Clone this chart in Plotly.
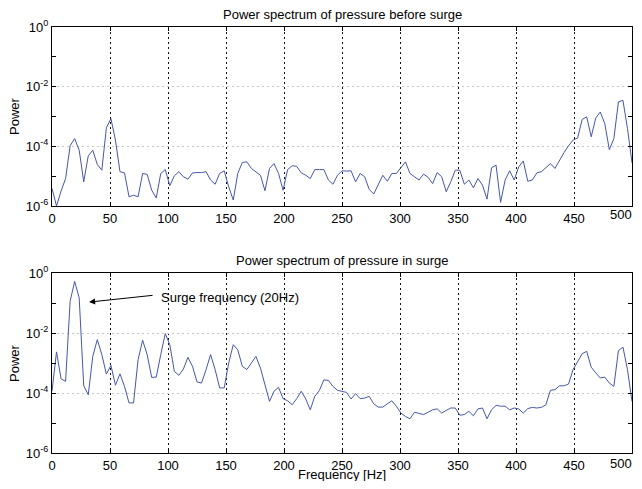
import numpy as np
import plotly.graph_objects as go

# Frequency bins (FFT grid, 129 bins from 0 to 500 Hz)
freq_hz = np.linspace(0, 500, 129)

# log10 of power
log10_power_before = [
    -5.41, -6.00, -5.50, -5.08, -3.98, -3.74, -4.13, -5.19, -4.32, -4.13,
    -4.61, -4.80, -3.38, -3.07, -3.79, -4.85, -4.89, -5.69, -5.64, -5.69,
    -4.91, -4.94, -5.47, -5.73, -4.91, -4.78, -5.32, -4.99, -4.85, -5.02,
    -5.10, -4.89, -4.88, -4.88, -4.85, -5.13, -5.27, -4.91, -4.82, -5.36,
    -5.80, -4.91, -4.54, -4.52, -4.74, -4.85, -4.97, -5.49, -4.74, -4.58,
    -4.91, -5.47, -4.78, -4.65, -4.67, -4.89, -4.97, -5.08, -4.78, -4.78,
    -4.78, -5.13, -5.27, -4.97, -4.82, -4.83, -4.82, -5.19, -4.91, -5.02,
    -5.44, -5.60, -5.30, -4.97, -5.17, -4.91, -4.91, -4.72, -4.52, -4.91,
    -5.02, -5.13, -4.93, -5.04, -5.25, -4.88, -5.02, -5.52, -5.19, -4.80,
    -4.80, -5.27, -5.13, -5.39, -5.08, -5.30, -5.77, -4.72, -4.63, -5.88,
    -5.13, -4.82, -5.13, -4.69, -4.49, -5.17, -5.13, -4.89, -4.85, -4.72,
    -4.58, -4.74, -4.46, -4.21, -3.98, -3.79, -3.72, -3.10, -3.01, -3.68,
    -3.05, -2.85, -3.24, -4.11, -3.74, -2.51, -2.46, -3.40, -4.55,
]

log10_power_surge = [
    -3.94, -2.63, -3.53, -3.61, -0.94, -0.28, -0.83, -3.76, -4.06, -2.78,
    -2.22, -2.72, -3.37, -3.08, -3.74, -3.36, -3.78, -4.33, -4.33, -2.89,
    -2.24, -2.72, -3.48, -3.47, -2.72, -2.02, -2.39, -3.28, -3.41, -3.20,
    -2.81, -3.11, -3.63, -3.67, -3.22, -2.72, -3.22, -3.83, -3.83, -3.00,
    -2.39, -2.56, -3.11, -3.22, -3.00, -2.78, -3.17, -3.72, -4.28, -3.94,
    -3.81, -4.19, -4.26, -4.39, -4.19, -3.94, -4.20, -4.56, -4.11, -3.92,
    -3.56, -3.58, -3.78, -3.91, -3.94, -3.98, -4.20, -4.02, -4.19, -4.17,
    -4.11, -4.36, -4.47, -4.47, -4.36, -4.26, -4.44, -4.67, -4.78, -4.86,
    -4.64, -4.69, -4.72, -4.64, -4.56, -4.53, -4.67, -4.58, -4.50, -4.50,
    -4.74, -4.72, -4.61, -4.76, -4.53, -4.50, -4.86, -4.56, -4.41, -4.44,
    -4.44, -4.56, -4.50, -4.53, -4.67, -4.52, -4.48, -4.50, -4.48, -4.39,
    -3.91, -3.89, -3.76, -3.76, -3.70, -3.22, -2.94, -2.69, -2.61, -3.14,
    -3.33, -3.50, -3.47, -3.67, -3.78, -2.59, -2.47, -3.22, -4.28,
]

x_tick_vals = [0, 50, 100, 150, 200, 250, 300, 350, 400, 450, 500]
x_tick_text = ["0", "50", "100", "150", "200", "250", "300", "350", "400", "450", ""]
x_last_label = "500"
y_major_vals = [1e-6, 1e-4, 1e-2, 1e0]
y_major_text = ["10<sup>-6</sup>", "10<sup>-4</sup>", "10<sup>-2</sup>", "10<sup>0</sup>"]
y_minor_vals = [1e-5, 1e-3, 1e-1]

title_top = "Power spectrum of pressure before surge"
title_bottom = "Power spectrum of pressure in surge"
annot_text = "Surge frequency (20Hz)"

power_before = [10 ** v for v in log10_power_before]
power_surge = [10 ** v for v in log10_power_surge]

# The page body has an 8px margin; size the figure so the page is exactly 642x489
OFF = 8
W, H = 642 - 2 * OFF, 489 - 2 * OFF
FONT = "Liberation Sans, Arial, sans-serif"
FS = 13
line_color = "#4657a8"


def px_x(x):  # window pixel -> paper fraction
    return (x - OFF) / W


def px_y(y):
    return (H - (y - OFF)) / H


fig = go.Figure()
fig.add_trace(go.Scatter(x=freq_hz, y=power_before, mode="lines",
                         line=dict(color=line_color, width=1), xaxis="x", yaxis="y",
                         showlegend=False))
fig.add_trace(go.Scatter(x=freq_hz, y=power_surge, mode="lines",
                         line=dict(color=line_color, width=1), xaxis="x2", yaxis="y2",
                         showlegend=False))

xdom = [px_x(52), px_x(632)]
top_dom = [px_y(206), px_y(27)]
bot_dom = [px_y(453), px_y(273)]


def xaxis_cfg(anchor):
    return dict(domain=xdom, anchor=anchor, range=[0, 500], tickvals=x_tick_vals,
                ticktext=x_tick_text,
                ticks="inside", ticklen=4, tickcolor="black", showline=True,
                linecolor="black", linewidth=1, mirror="ticks", showgrid=True,
                gridcolor="#111111", griddash="1.5px,3.5px", gridwidth=1, zeroline=False,
                automargin=False,
                tickfont=dict(family=FONT, size=FS, color="black"))


def yaxis_cfg(anchor, dom):
    return dict(domain=dom, anchor=anchor, type="log", range=[-6, 0],
                tickvals=y_major_vals, ticktext=y_major_text,
                ticks="inside", ticklen=4, tickcolor="black", showline=True,
                linecolor="black", linewidth=1, mirror="ticks", showgrid=True,
                gridcolor="#c8c8c8", griddash="2px,3px", gridwidth=1, zeroline=False,
                automargin=False,
                tickfont=dict(family=FONT, size=FS, color="black"),
                minor=dict(tickvals=y_minor_vals, ticks="inside", ticklen=4,
                           tickcolor="black", showgrid=False))


fig.update_layout(
    width=W, height=H,
    margin=dict(l=0, r=0, t=0, b=0, autoexpand=False),
    paper_bgcolor="white", plot_bgcolor="white",
    font=dict(family=FONT, size=FS, color="black"),
    xaxis=xaxis_cfg("y"),
    yaxis=yaxis_cfg("x", top_dom),
    xaxis2=xaxis_cfg("y2"),
    yaxis2=yaxis_cfg("x2", bot_dom),
)

cx = px_x((52 + 632) / 2)
C = dict(xref="paper", yref="paper", showarrow=False, xanchor="center", yanchor="middle")
annots = [
    dict(text=title_top, x=cx, y=px_y(15), **C),
    dict(text=title_bottom, x=cx, y=px_y(260), **C),
    dict(text="Frequency [Hz]", x=cx, y=px_y(474), **C),
    dict(text="Power", x=px_x(14), y=px_y(116), textangle=-90, **C),
    dict(text="Power", x=px_x(14), y=px_y(363), textangle=-90, **C),
    dict(text=x_last_label, x=1, y=px_y(214), xref="paper", yref="paper",
         xanchor="right", yanchor="middle", showarrow=False),
    dict(text=x_last_label, x=1, y=px_y(463), xref="paper", yref="paper",
         xanchor="right", yanchor="middle", showarrow=False),
    dict(text=annot_text, x=92, y=-0.8, xref="x2", yref="y2", xanchor="left",
         yanchor="middle", showarrow=False),
    dict(x=32, y=-0.97, ax=88, ay=-0.74, xref="x2", yref="y2", axref="x2", ayref="y2",
         text="", showarrow=True, arrowhead=2, arrowsize=1.2, arrowwidth=1,
         arrowcolor="black"),
]
fig.update_layout(annotations=annots)

fig.write_html("out.html")
